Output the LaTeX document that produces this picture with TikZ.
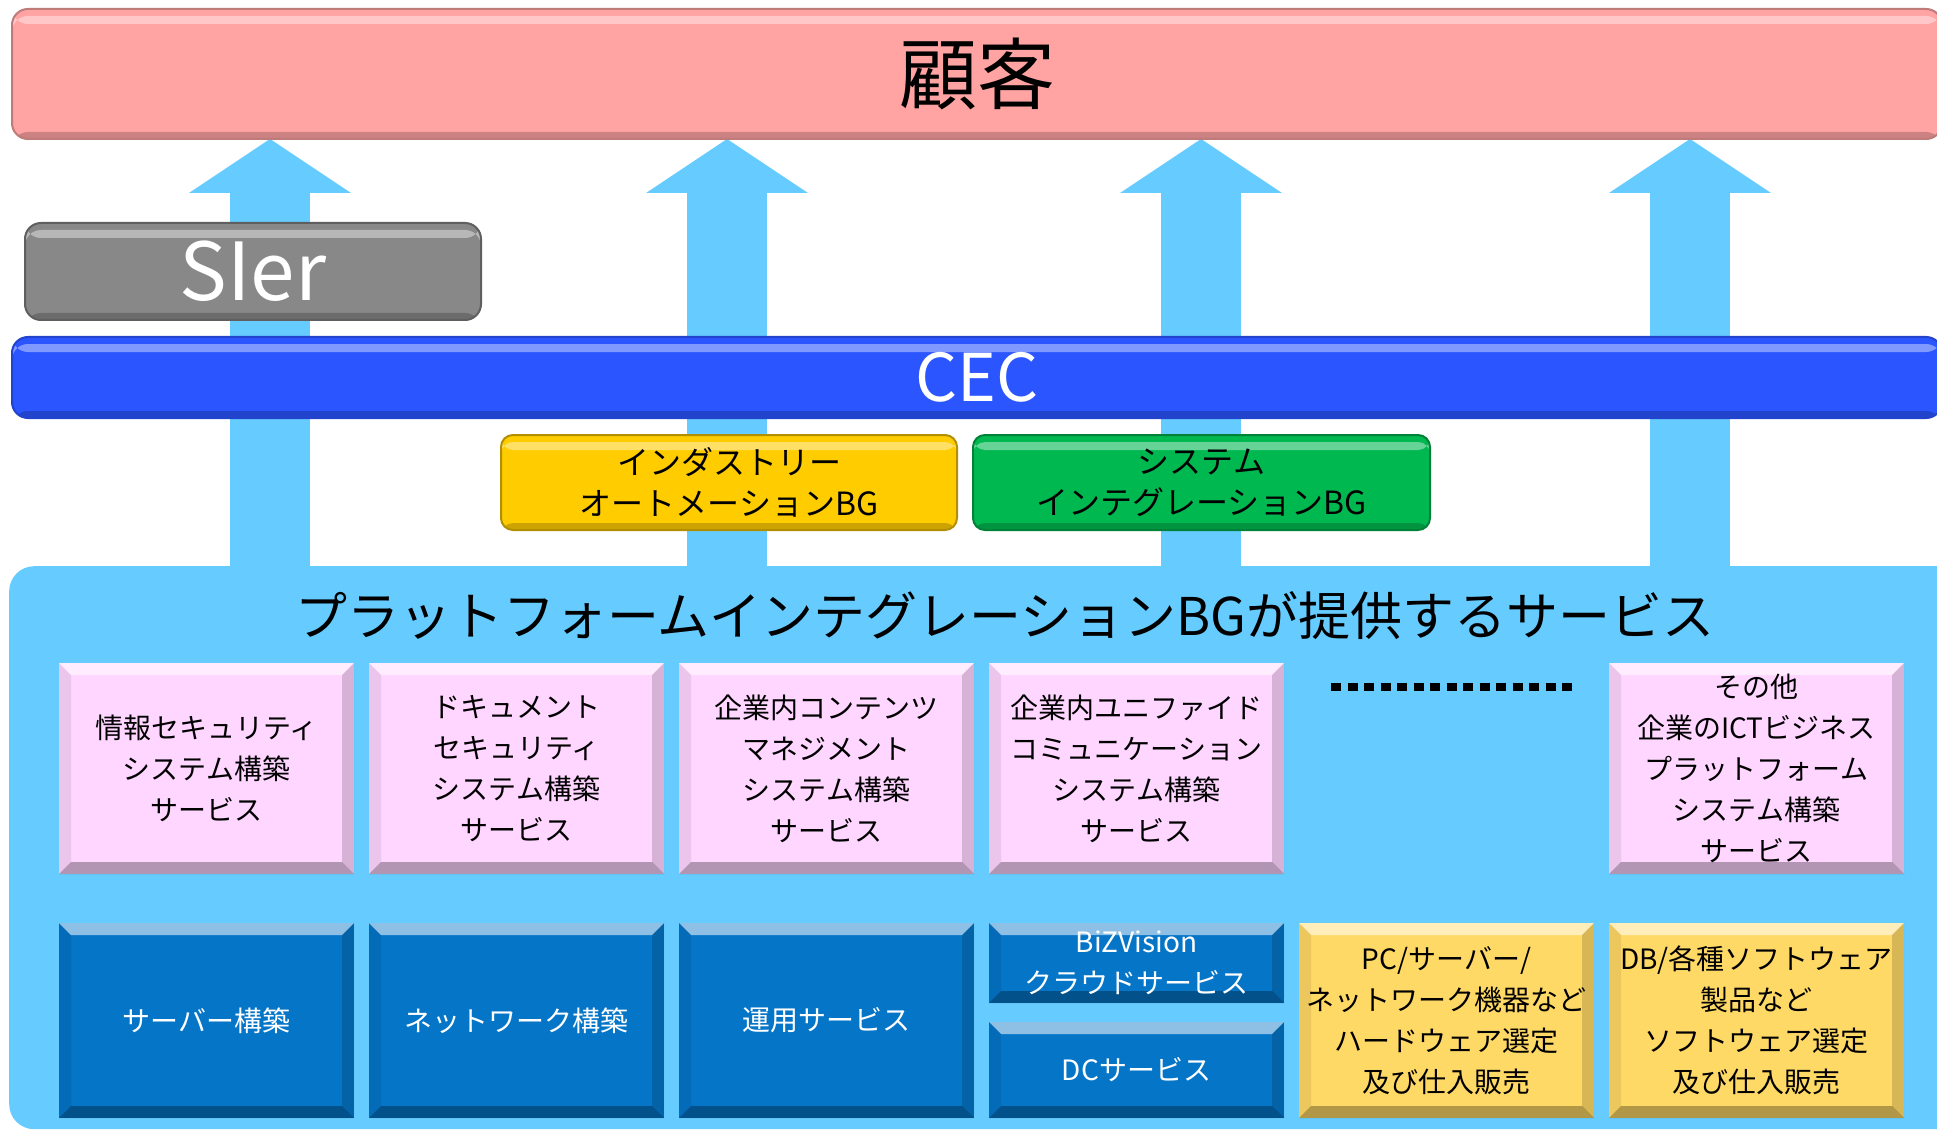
\documentclass[tikz,border=0pt]{standalone}
\usepackage{fontspec}
\setmainfont{Noto Sans CJK JP}
\usetikzlibrary{arrows.meta,backgrounds}

\definecolor{kokyakupink}{HTML}{FFA3A3}
\definecolor{arrowblue}{HTML}{66CCFF}
\definecolor{siergray}{HTML}{888888}
\definecolor{cecblue}{HTML}{2B55FF}
\definecolor{iabgyellow}{HTML}{FFCC00}
\definecolor{sibggreen}{HTML}{00B850}
\definecolor{cellpink}{HTML}{FFD6FF}
\definecolor{cellblue}{HTML}{0575C8}
\definecolor{cellyellow}{HTML}{FFD966}

\begin{document}
\begin{tikzpicture}[x=1pt, y=-1pt,
    gloss/.style={path picture={
        \fill[white, opacity=.4] ([yshift=-7pt]path picture bounding box.north west) rectangle ([yshift=-15pt]path picture bounding box.north east);
        \fill[black, opacity=.2] ([yshift=7pt]path picture bounding box.south west) rectangle (path picture bounding box.south east);}},
    bevel/.style={path picture={
        \path (path picture bounding box.north west) coordinate (bnw)
              (path picture bounding box.north east) coordinate (bne)
              (path picture bounding box.south west) coordinate (bsw)
              (path picture bounding box.south east) coordinate (bse);
        \fill[white, opacity=.55] (bnw) -- (bne) -- ([shift={(-12pt,-12pt)}]bne) -- ([shift={(12pt,-12pt)}]bnw) -- cycle;
        \fill[black, opacity=.3] (bsw) -- (bse) -- ([shift={(-12pt,12pt)}]bse) -- ([shift={(12pt,12pt)}]bsw) -- cycle;
        \fill[black, opacity=.08] (bnw) -- (bsw) -- ([shift={(12pt,12pt)}]bsw) -- ([shift={(12pt,-12pt)}]bnw) -- cycle;
        \fill[black, opacity=.16] (bne) -- (bse) -- ([shift={(-12pt,12pt)}]bse) -- ([shift={(-12pt,-12pt)}]bne) -- cycle;}},
    bar/.style={anchor=north west, inner sep=0pt, outer sep=0pt, rounded corners=16pt, line width=2pt, gloss},
    bgbox/.style={bar, rounded corners=12pt, align=center, font=\fontsize{32}{41}\selectfont},
    cell/.style={anchor=north west, minimum width=295pt, inner sep=0pt, outer sep=0pt, align=center, font=\fontsize{28}{41}\selectfont, bevel},
    pinkcell/.style={cell, fill=cellpink, minimum height=211pt},
    bluecell/.style={cell, fill=cellblue, text=white, minimum height=195pt},
    yellowcell/.style={cell, fill=cellyellow, minimum height=195pt},
    bigarrow/.style={arrowblue, line width=80pt, -{Triangle[width=162pt, length=54pt, line width=0pt]}}]
  \useasboundingbox (0,0) rectangle (1937,1131);
  \clip (0,0) rectangle (1937,1131);

  % upper layers
  \node[bar, fill=kokyakupink, draw=kokyakupink!75!black, minimum width=1930pt, minimum height=130pt, font=\fontsize{78}{80}\selectfont] (kokyaku) at (12,9) {顧客};
  \node[bar, fill=siergray, draw=siergray!70!black, text=white, minimum width=456pt, minimum height=97pt, font=\fontsize{80}{82}\selectfont] (sier) at (25,223) {SIer};
  \node[bar, fill=cecblue, draw=cecblue!80!black, text=white, minimum width=1930pt, minimum height=81pt, font=\fontsize{66}{70}\selectfont] (cec) at (12,337) {CEC};
  \node[bgbox, fill=iabgyellow, draw=iabgyellow!70!black, minimum width=456pt, minimum height=95pt] (iabg) at (501,435) {インダストリー\\オートメーションBG};
  \node[bgbox, fill=sibggreen, draw=sibggreen!70!black, minimum width=457pt, minimum height=95pt] (sibg) at (973,435) {システム\\インテグレーションBG};

  % services panel
  \node[anchor=north west, fill=arrowblue, rounded corners=25pt, minimum width=1960pt, minimum height=563pt, inner sep=0pt] (pibg) at (9,566) {};
  \node[font=\fontsize{52}{60}\selectfont] (pibgtitle) at (1005,616) {プラットフォームインテグレーションBGが提供するサービス};

  \node[pinkcell] (sec) at (59,663) {情報セキュリティ\\システム構築\\サービス};
  \node[pinkcell] (doc) at (369,663) {ドキュメント\\セキュリティ\\システム構築\\サービス};
  \node[pinkcell] (cms) at (679,663) {企業内コンテンツ\\マネジメント\\システム構築\\サービス};
  \node[pinkcell] (uc) at (989,663) {企業内ユニファイド\\コミュニケーション\\システム構築\\サービス};
  \draw[line width=8pt, dash pattern=on 10pt off 6.5pt] (1331,687) -- (1576,687);
  \node[pinkcell] (ict) at (1609,663) {その他\\企業のICTビジネス\\プラットフォーム\\システム構築\\サービス};

  \node[bluecell] (server) at (59,923) {サーバー構築};
  \node[bluecell] (network) at (369,923) {ネットワーク構築};
  \node[bluecell] (ops) at (679,923) {運用サービス};
  \node[bluecell, minimum height=80pt] (bizv) at (989,923) {BiZVision\\クラウドサービス};
  \node[bluecell, minimum height=96pt] (dc) at (989,1022) {DCサービス};
  \node[yellowcell] (hw) at (1299,923) {PC/サーバー/\\ネットワーク機器など\\ハードウェア選定\\及び仕入販売};
  \node[yellowcell] (sw) at (1609,923) {DB/各種ソフトウェア\\製品など\\ソフトウェア選定\\及び仕入販売};

  % arrows behind everything
  \coordinate (col1) at (270,0);
  \coordinate (col2) at (727,0);
  \coordinate (col3) at (1201,0);
  \coordinate (col4) at (1690,0);
  \begin{scope}[on background layer]
    \fill[white] (0,0) rectangle (1937,1131);
    \draw[bigarrow] (col1 |- pibg.north) -- (col1 |- kokyaku.south);
    \draw[bigarrow] (col2 |- pibg.north) -- (col2 |- kokyaku.south);
    \draw[bigarrow] (col3 |- pibg.north) -- (col3 |- kokyaku.south);
    \draw[bigarrow] (col4 |- pibg.north) -- (col4 |- kokyaku.south);
  \end{scope}
\end{tikzpicture}
\end{document}
